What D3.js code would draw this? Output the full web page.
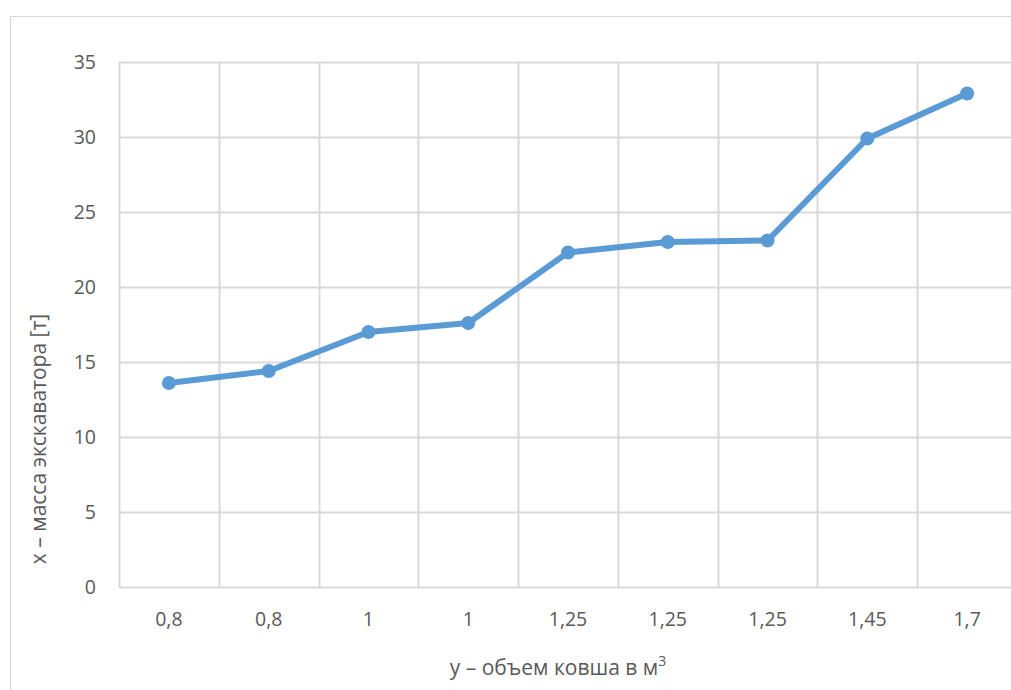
<!DOCTYPE html>
<html>
<head>
<meta charset="utf-8">
<script src="https://cdn.jsdelivr.net/npm/d3@7"></script>
<style>
  body { margin: 0; background: #fff; }
  text { font-family: "Open Sans", "Liberation Sans", sans-serif; fill: #595959; }
</style>
</head>
<body>
<div id="chart"></div>
<script>
// data
let categories = ["0,8", "0,8", "1", "1", "1,25", "1,25", "1,25", "1,45", "1,7"];
let massValues = [13.6, 14.4, 17.0, 17.6, 22.3, 23.0, 23.1, 29.9, 32.9];
let yTicks = [0, 5, 10, 15, 20, 25, 30, 35];

let svgWidth = 1011;
let svgHeight = 690;

let margin = { top: 62, right: -6, bottom: 103, left: 119 };
let width = svgWidth - margin.left - margin.right;
let height = svgHeight - margin.top - margin.bottom;

let svg = d3.select("#chart").append("svg")
    .attr("width", svgWidth)
    .attr("height", svgHeight);

// outer chart border
svg.append("rect")
    .attr("x", 10.5).attr("y", 16.5)
    .attr("width", 1020).attr("height", 700)
    .attr("fill", "none")
    .attr("stroke", "#d9d9d9");

let chartGroup = svg.append("g")
    .attr("transform", `translate(${margin.left}, ${margin.top})`);

let idx = d3.range(categories.length);

let xBand = d3.scaleBand()
    .domain(idx)
    .range([0, width]);

let yScale = d3.scaleLinear()
    .domain([0, 35])
    .range([height, 0]);

// horizontal gridlines
chartGroup.selectAll(".hgrid")
    .data(yTicks)
    .enter()
    .append("line")
    .attr("x1", 0).attr("x2", width)
    .attr("y1", d => Math.round(yScale(d)) + 0.5)
    .attr("y2", d => Math.round(yScale(d)) + 0.5)
    .attr("stroke", "#d9d9d9")
    .attr("stroke-width", 2);

// vertical gridlines at band boundaries
chartGroup.selectAll(".vgrid")
    .data(idx.concat([categories.length]))
    .enter()
    .append("line")
    .attr("x1", d => Math.round(d * xBand.step()) + 0.5)
    .attr("x2", d => Math.round(d * xBand.step()) + 0.5)
    .attr("y1", 0).attr("y2", height)
    .attr("stroke", "#d9d9d9")
    .attr("stroke-width", 2);

// y tick labels
let yAxis = d3.axisLeft(yScale).tickValues(yTicks).tickSize(0).tickPadding(23);
let yg = chartGroup.append("g").call(yAxis);
yg.select(".domain").remove();
yg.selectAll("text").style("font-size", "19.5px").attr("fill", "#595959");

// x tick labels
let xAxis = d3.axisBottom(xBand).tickFormat(i => categories[i]).tickSize(0).tickPadding(25);
let xg = chartGroup.append("g")
    .attr("transform", `translate(0, ${height})`)
    .call(xAxis);
xg.select(".domain").remove();
xg.selectAll("text").style("font-size", "19.5px").attr("fill", "#595959");

// line
let line = d3.line()
    .x((d, i) => xBand(i) + xBand.bandwidth() / 2)
    .y(d => yScale(d));

chartGroup.append("path")
    .datum(massValues)
    .attr("d", line)
    .attr("fill", "none")
    .attr("stroke", "#5b9bd5")
    .attr("stroke-width", 6)
    .attr("stroke-linejoin", "round");

chartGroup.selectAll("circle")
    .data(massValues)
    .enter()
    .append("circle")
    .attr("cx", (d, i) => xBand(i) + xBand.bandwidth() / 2)
    .attr("cy", d => yScale(d))
    .attr("r", 7)
    .attr("fill", "#5b9bd5");

// axis titles
svg.append("text")
    .attr("transform", "translate(46, 439) rotate(-90)")
    .attr("text-anchor", "middle")
    .style("font-size", "21px")
    .text("x – масса экскаватора [т]");

let xt = svg.append("text")
    .attr("x", 558)
    .attr("y", 675)
    .attr("text-anchor", "middle")
    .style("font-size", "21px")
    .text("y – объем ковша в м");
xt.append("tspan")
    .attr("dy", "-9")
    .style("font-size", "14px")
    .text("3");
</script>
</body>
</html>
